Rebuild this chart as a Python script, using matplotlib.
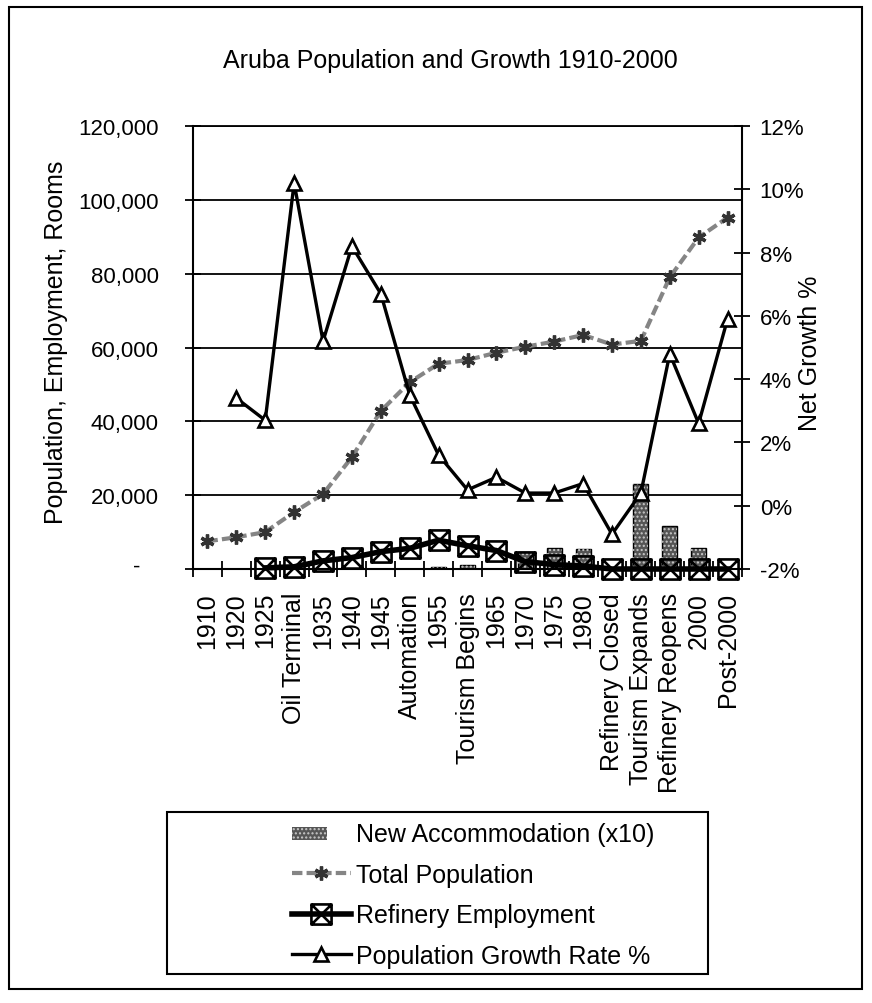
import numpy as np
import matplotlib
matplotlib.use('Agg')
import matplotlib.pyplot as plt
import matplotlib.patches as mpatches
from matplotlib.path import Path
from matplotlib.legend_handler import HandlerPatch

plt.rcParams['font.family'] = ['Liberation Sans', 'DejaVu Sans']

categories = ['1910', '1920', '1925', 'Oil Terminal', '1935', '1940', '1945',
              'Automation', '1955', 'Tourism Begins', '1965', '1970', '1975',
              '1980', 'Refinery Closed', 'Tourism Expands', 'Refinery Reopens',
              '2000', 'Post-2000']

rooms_x10 = [0, 0, 0, 0, 0, 0, 0, 0, 500, 1200, 0, 4500, 5800, 5500, 0,
             23000, 11700, 5600, 0]

population = [7500, 8600, 10000, 15400, 20300, 30300, 42800, 50600, 55600,
              56600, 58600, 60200, 61600, 63400, 60800, 61800, 79000, 89800,
              95200]

employment = [np.nan, np.nan, 300, 600, 2200, 3100, 4700, 5600, 7800, 6300,
              5000, 2000, 1200, 800, 0, 0, 0, 0, 0]

growth_pct = [np.nan, 3.4, 2.7, 10.2, 5.2, 8.2, 6.7, 3.5, 1.6, 0.5, 0.9, 0.4,
              0.4, 0.7, -0.9, 0.4, 4.8, 2.6, 5.9]

left_ticks = list(range(0, 120001, 20000))
right_ticks = list(range(-2, 13, 2))

W, H = 872, 1004
def fx(px):
    return px / W
def fy(py):
    return 1 - py / H

x = np.arange(len(categories))

fig = plt.figure(figsize=(W / 100, H / 100), dpi=100)
ax = fig.add_axes([fx(193), fy(570), fx(742) - fx(193), fy(127) - fy(570)])
ax2 = ax.twinx()

# square with a cross in it, for the employment series
box_x = Path([(-1, -1), (1, -1), (1, 1), (-1, 1), (-1, -1),
              (-1, -1), (1, 1), (-1, 1), (1, -1)],
             [Path.MOVETO, Path.LINETO, Path.LINETO, Path.LINETO, Path.CLOSEPOLY,
              Path.MOVETO, Path.LINETO, Path.MOVETO, Path.LINETO])

ax.bar(x, rooms_x10, width=0.52, color='#555555', edgecolor='black', lw=1, zorder=2)
ax.bar(x, rooms_x10, width=0.52, facecolor='none', edgecolor='#c8c8c8',
       hatch='....', lw=0, zorder=2)

pop_line, = ax.plot(x, population, color='#858585', lw=3, dashes=(2.5, 1),
                    marker=(6, 2, 0), ms=10, mec='#333333', mew=2.4, zorder=4)
emp_line, = ax.plot(x, employment, color='black', lw=4, marker=box_x, ms=14.5,
                    mfc='none', mec='black', mew=1.9, zorder=5, clip_on=False)
gr_line, = ax2.plot(x, growth_pct, color='black', lw=2.4, marker='^', ms=10,
                    mfc='white', mec='black', mew=1.9, zorder=5)

ax.set_xlim(-0.5, len(x) - 0.5)
ax.set_ylim(0, 120000)
ax.set_yticks(left_ticks)
ax.set_yticklabels(['' if v == 0 else f'{v:,}' for v in left_ticks])
ax.annotate('-', xy=(0, 0), xycoords=('axes fraction', 'data'), xytext=(-38, 4),
            textcoords='offset points', ha='right', va='center_baseline', fontsize=16)
ax.grid(axis='y', color='black', lw=1.3)
ax.set_axisbelow(True)
ax.tick_params(axis='y', direction='inout', length=11.5, width=1.3, labelsize=16, pad=19)

ax.set_xticks(x)
ax.set_xticklabels(categories, rotation=90, fontsize=18)
ax.set_xticks(np.arange(-0.5, len(x)), minor=True)
ax.tick_params(axis='x', which='major', length=0, pad=16.5)
ax.tick_params(axis='x', which='minor', direction='inout', length=11.5, width=1.3)

ax2.set_ylim(-2, 12)
ax2.set_yticks(right_ticks)
ax2.set_yticklabels([f'{v}%' for v in right_ticks])
ax2.tick_params(axis='y', direction='inout', length=11.5, width=1.3, labelsize=16, pad=7)

ax.spines['right'].set_visible(False)
for s in ['left', 'bottom', 'top']:
    ax2.spines[s].set_visible(False)
ax.spines['left'].set_linewidth(1.5)
ax.spines['bottom'].set_linewidth(1.5)
ax.spines['top'].set_linewidth(1.3)
ax2.spines['right'].set_linewidth(1.5)

fig.text(fx(450), fy(68), 'Aruba Population and Growth 1910-2000',
         ha='center', va='baseline', fontsize=18)
fig.text(fx(56), fy(342), 'Population, Employment, Rooms', rotation=90,
         ha='center', va='center', fontsize=18)
fig.text(fx(810), fy(353), 'Net Growth %', rotation=90,
         ha='center', va='center', fontsize=18)

def small_rect(legend, orig_handle, xdescent, ydescent, width, height, fontsize):
    return mpatches.Rectangle((-xdescent, -ydescent + 0.1 * height),
                              0.6 * width, 0.7 * height)

bar_proxy = mpatches.Patch(facecolor='#555555', edgecolor='#c8c8c8', hatch='....', lw=0)
leg = fig.legend([bar_proxy, pop_line, emp_line, gr_line],
                 ['New Accommodation (x10)', 'Total Population', 'Refinery Employment',
                  'Population Growth Rate %'],
                 loc='center left', bbox_to_anchor=(fx(292), fy(896)), frameon=False,
                 borderaxespad=0, borderpad=0,
                 fontsize=18, handlelength=2.35, handletextpad=0.2, labelspacing=0.66,
                 handler_map={bar_proxy: HandlerPatch(patch_func=small_rect)})

# legend frame and chart border
fig.patches.append(mpatches.Rectangle((fx(167), fy(975)), fx(708) - fx(167),
                                      fy(813) - fy(975), transform=fig.transFigure,
                                      fill=False, lw=1.5, ec='black'))
fig.patches.append(mpatches.Rectangle((fx(9), fy(990)), fx(862) - fx(9),
                                      fy(8) - fy(990), transform=fig.transFigure,
                                      fill=False, lw=1.5, ec='black'))

fig.savefig('out.png', dpi=100)
